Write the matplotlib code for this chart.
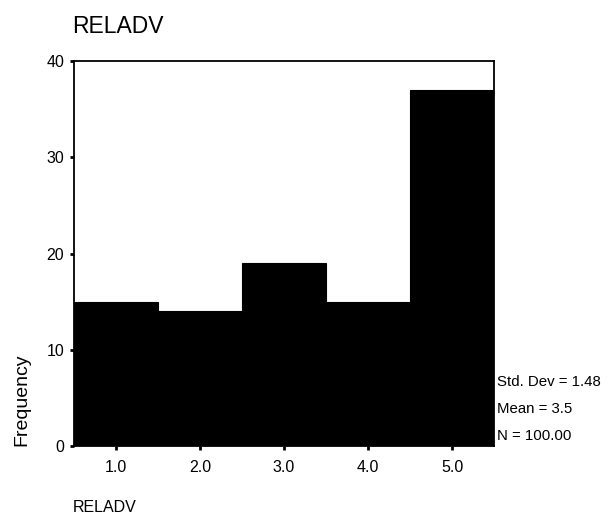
import numpy as np
import matplotlib
matplotlib.use("Agg")
import matplotlib.pyplot as plt

plt.rcParams['font.family'] = ['Liberation Sans', 'DejaVu Sans']

# Histogram of RELADV
bins = [1.0, 2.0, 3.0, 4.0, 5.0]
counts = [15, 14, 19, 15, 37]
tick_labels = ['1.0', '2.0', '3.0', '4.0', '5.0']
stats = ['Std. Dev = 1.48', 'Mean = 3.5', 'N = 100.00']

fig = plt.figure(figsize=(6.08, 5.22), dpi=100)
ax = fig.add_axes([74 / 608, 1 - 446 / 522, 420 / 608, 385 / 522])

ax.bar(bins, counts, width=1.0, color='black', edgecolor='black', linewidth=0.8)

ax.set_xlim(0.5, 5.5)
ax.set_ylim(0, 40)
ax.set_xticks(bins)
ax.set_xticklabels(tick_labels)
ax.set_yticks([0, 10, 20, 30, 40])

for s in ax.spines.values():
    s.set_linewidth(1.3)
    s.set_color('black')

ax.tick_params(axis='both', direction='out', length=3, width=2, labelsize=11.5, colors='black')
ax.tick_params(axis='x', pad=7)
ax.tick_params(axis='y', pad=4)

# title / labels positioned like the SPSS output
fig.text(72 / 608, 1 - 15 / 522, 'RELADV', fontsize=16.5, ha='left', va='top')
fig.text(73 / 608, 1 - 508 / 522, 'RELADV', fontsize=11.5, ha='left', va='center')
fig.text(22 / 608, 1 - 400 / 522, 'Frequency', fontsize=14, rotation=90, ha='center', va='center')

# summary statistics to the right of the plot
for i, s in enumerate(stats):
    fig.text(497 / 608, 1 - (382 + 27 * i) / 522, s, fontsize=10.8, ha='left', va='center')

fig.savefig('out.png', dpi=100)
